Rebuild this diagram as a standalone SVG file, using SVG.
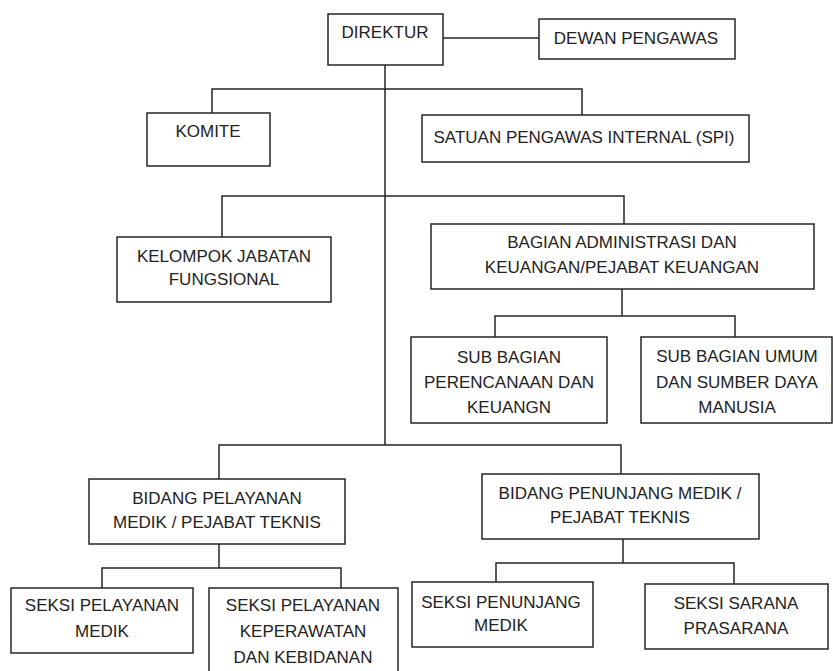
<svg xmlns="http://www.w3.org/2000/svg" width="833" height="671" viewBox="0 0 833 671">
<style>
rect.box{fill:#fff;stroke:#262626;stroke-width:1.5}
.conn path{fill:none;stroke:#262626;stroke-width:1.5}
text{font-family:"Liberation Sans",Arial,sans-serif;font-size:17px;fill:#222;text-anchor:middle}
</style>
<rect width="833" height="671" fill="#fff"/>
<g class="conn" id="connectors">
<path d="M443 38H539"/>
<path d="M385 65V445"/>
<path d="M212 113V89H582V115"/>
<path d="M222 237V196H624V224"/>
<path d="M622 289V316"/>
<path d="M495 337V316H735V337"/>
<path d="M219 479V445H621V474"/>
<path d="M219 544V568"/>
<path d="M102 588V568H341V588"/>
<path d="M623 539V563"/>
<path d="M496 582V563H734V584"/>
</g>
<g id="direktur"><rect class="box" x="328" y="14" width="115" height="51"/><text x="385" y="38">DIREKTUR</text></g>
<g id="dewan"><rect class="box" x="539" y="19" width="196" height="40"/><text x="636" y="44">DEWAN PENGAWAS</text></g>
<g id="komite"><rect class="box" x="147" y="113" width="123" height="53"/><text x="208" y="137">KOMITE</text></g>
<g id="spi"><rect class="box" x="422" y="115" width="327" height="47"/><text x="584" y="143">SATUAN PENGAWAS INTERNAL (SPI)</text></g>
<g id="kelompok"><rect class="box" x="117" y="237" width="214" height="65"/><text x="224" y="262">KELOMPOK JABATAN</text><text x="224" y="285">FUNGSIONAL</text></g>
<g id="bagian"><rect class="box" x="431" y="224" width="383" height="65"/><text x="622" y="248">BAGIAN ADMINISTRASI DAN</text><text x="622" y="273">KEUANGAN/PEJABAT KEUANGAN</text></g>
<g id="sub-perencanaan"><rect class="box" x="411" y="337" width="196" height="86"/><text x="509" y="363">SUB BAGIAN</text><text x="509" y="388">PERENCANAAN DAN</text><text x="509" y="413">KEUANGN</text></g>
<g id="sub-umum"><rect class="box" x="641" y="337" width="191" height="86"/><text x="737" y="362">SUB BAGIAN UMUM</text><text x="737" y="388">DAN SUMBER DAYA</text><text x="737" y="413">MANUSIA</text></g>
<g id="bidang-pelayanan"><rect class="box" x="89" y="479" width="256" height="65"/><text x="217" y="504">BIDANG PELAYANAN</text><text x="217" y="528">MEDIK / PEJABAT TEKNIS</text></g>
<g id="bidang-penunjang"><rect class="box" x="482" y="474" width="277" height="65"/><text x="620" y="499">BIDANG PENUNJANG MEDIK /</text><text x="620" y="523">PEJABAT TEKNIS</text></g>
<g id="seksi-pelayanan-medik"><rect class="box" x="11" y="588" width="182" height="65"/><text x="102" y="611">SEKSI PELAYANAN</text><text x="102" y="637">MEDIK</text></g>
<g id="seksi-keperawatan"><rect class="box" x="209" y="588" width="189" height="90"/><text x="303" y="611">SEKSI PELAYANAN</text><text x="303" y="637">KEPERAWATAN</text><text x="303" y="663">DAN KEBIDANAN</text></g>
<g id="seksi-penunjang"><rect class="box" x="412" y="582" width="181" height="65"/><text x="501" y="608">SEKSI PENUNJANG</text><text x="501" y="631">MEDIK</text></g>
<g id="seksi-sarana"><rect class="box" x="645" y="584" width="183" height="65"/><text x="736" y="609">SEKSI SARANA</text><text x="736" y="634">PRASARANA</text></g>
</svg>
